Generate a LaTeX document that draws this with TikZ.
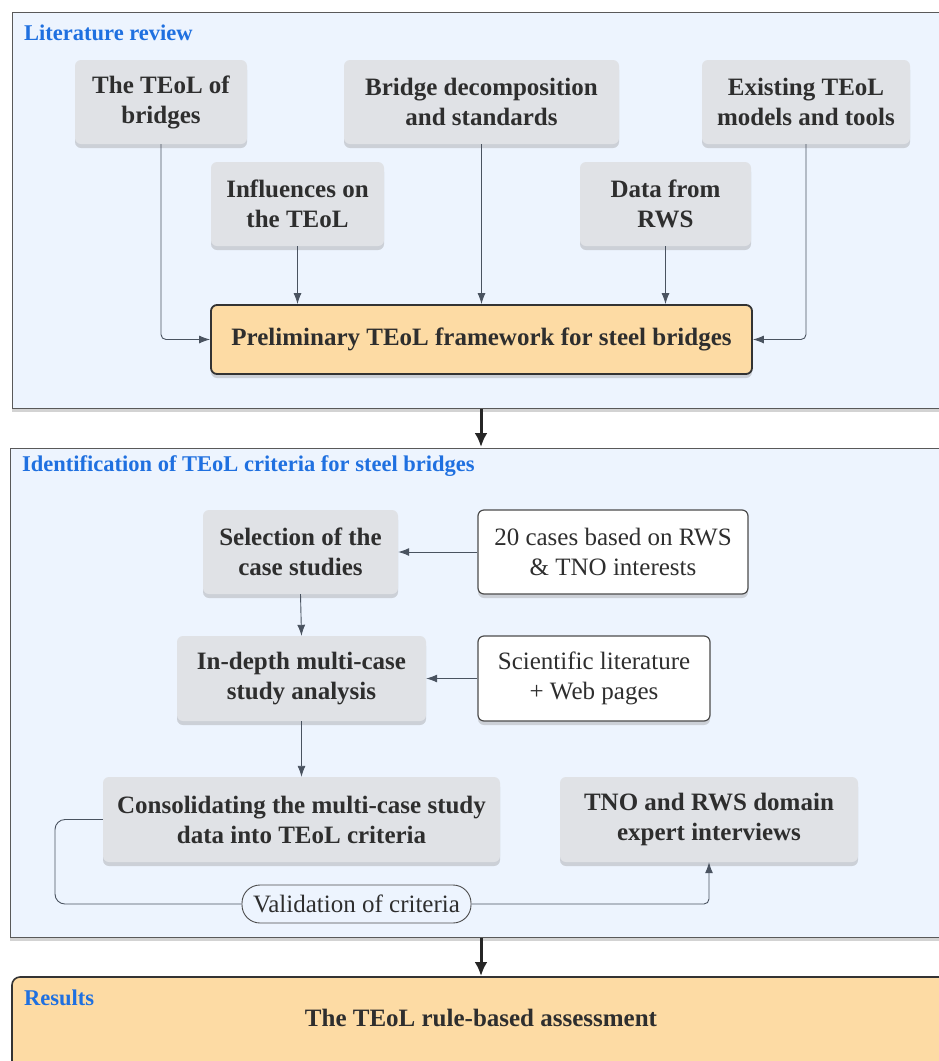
\documentclass[tikz,border=0pt]{standalone}
\usepackage{fontspec}
\setmainfont{Liberation Serif}
\newfontfamily\myserif{Liberation Serif}
\usetikzlibrary{arrows.meta,shadows,positioning}
\definecolor{bgblue}{HTML}{EDF4FE}
\definecolor{boxgray}{HTML}{E0E2E6}
\definecolor{orangefill}{HTML}{FDDBA4}
\definecolor{titleblue}{HTML}{1F70E0}
\definecolor{txt}{HTML}{2E2E2E}
\definecolor{linecol}{HTML}{4A5360}
\tikzset{
  panel/.style={draw=black!65, line width=1pt, fill=bgblue, drop shadow={opacity=0.35, shadow xshift=0pt, shadow yshift=-4pt}},
  graybox/.style={rectangle, rounded corners=6pt, fill=boxgray, text=txt, align=center, inner sep=0pt,
     font=\myserif\fontsize{25}{30}\selectfont\bfseries, drop shadow={opacity=0.3, shadow xshift=0pt, shadow yshift=-4pt}},
  whitebox/.style={rectangle, rounded corners=6pt, fill=white, draw=black!70, line width=1.2pt, text=txt, align=center, inner sep=0pt,
     font=\myserif\fontsize{25}{30}\selectfont, drop shadow={opacity=0.3, shadow xshift=0pt, shadow yshift=-4pt}},
  orangebox/.style={rectangle, rounded corners=6pt, fill=orangefill, draw=black!80, line width=1.8pt, text=txt, align=center, inner sep=0pt,
     font=\myserif\fontsize{25}{30}\selectfont\bfseries, drop shadow={opacity=0.3, shadow xshift=0pt, shadow yshift=-4pt}},
  pill/.style={rectangle, rounded corners=18pt, fill=bgblue, draw=black!70, line width=0.9pt, text=txt, inner sep=0pt,
     font=\myserif\fontsize{25}{28}\selectfont},
  paneltitle/.style={anchor=west, text=titleblue, font=\myserif\fontsize{22.5}{26}\selectfont\bfseries, inner sep=0pt},
  conn/.style={draw=linecol, line width=0.9pt, -{Latex[length=11pt,width=8pt]}, rounded corners=5pt},
  bigarrow/.style={draw=black!85, line width=3pt, -{Latex[length=14pt,width=13pt]}},
}
\begin{document}
\begin{tikzpicture}[x=1pt,y=-1pt]
\useasboundingbox (0,0) rectangle (938,1061);
% panels
\path[panel] (12,12) rectangle (952,408);
\path[panel] (10,448) rectangle (952,937);
\path[panel, fill=orangefill, draw=black!80, line width=1.6pt, rounded corners=8pt] (12,977) rectangle (952,1080);
\node[paneltitle] (t1) at (24,33) {Literature review};
\node[paneltitle] (t2) at (22,466) {Identification of TEoL criteria for steel bridges};
\node[paneltitle] (t3) at (24,998) {Results};
\node[text=txt, font=\myserif\fontsize{25}{28}\selectfont\bfseries] (res) at (481,1018) {The TEoL rule-based assessment};

% top panel
\node[graybox, minimum width=172pt, minimum height=84pt] (teol) at (161,102) {The TEoL of\\bridges};
\node[graybox, minimum width=275pt, minimum height=84pt] (bridge) at (481.5,102) {Bridge decomposition\\and standards};
\node[graybox, minimum width=208pt, minimum height=84pt] (exist) at (806,102) {Existing TEoL\\models and tools};
\node[graybox, minimum width=173pt, minimum height=84pt] (infl) at (297.5,204) {Influences on\\the TEoL};
\node[graybox, minimum width=171pt, minimum height=84pt] (data) at (665.5,204) {Data from\\RWS};
\node[orangebox, minimum width=541pt, minimum height=69pt] (prelim) at (481.5,339.5) {Preliminary TEoL framework for steel bridges};

\draw[conn] (teol.south) |- (prelim.west);
\draw[conn] (infl.south) -- (infl.south |- prelim.north);
\draw[conn] (bridge.south) -- (bridge.south |- prelim.north);
\draw[conn] (data.south) -- (data.south |- prelim.north);
\draw[conn] (exist.south) |- (prelim.east);

% middle panel
\node[graybox, minimum width=195pt, minimum height=84pt] (sel) at (300.5,552) {Selection of the\\case studies};
\node[whitebox, minimum width=270pt, minimum height=84pt] (cases) at (613,552) {20 cases based on RWS\\\& TNO interests};
\node[graybox, minimum width=249pt, minimum height=85pt] (indepth) at (301.5,678.5) {In-depth multi-case\\study analysis};
\node[whitebox, minimum width=232pt, minimum height=85pt] (sci) at (594,678.5) {Scientific literature\\+ Web pages};
\node[graybox, minimum width=397pt, minimum height=85pt] (cons) at (301.5,819.5) {Consolidating the multi-case study\\data into TEoL criteria};
\node[graybox, minimum width=298pt, minimum height=85pt] (tno) at (709,819.5) {TNO and RWS domain\\expert interviews};
\node[pill, minimum width=229pt, minimum height=38pt] (valid) at (356.5,904) {Validation of criteria};
\coordinate (lc) at (55,904);

\draw[conn] (cases.west) -- (sel.east);
\draw[conn] (sci.west) -- (indepth.east);
\draw[conn] (sel.south) -- (indepth.north);
\draw[conn] (indepth.south) -- (cons.north);
\draw[draw=linecol, line width=0.9pt, rounded corners=10pt] (cons.west) -| (lc) -- (valid.west);
\draw[conn] (valid.east) -| (tno.south);

% big arrows
\draw[bigarrow] (481,409) -- (481,447);
\draw[bigarrow] (481,938) -- (481,976);
\end{tikzpicture}
\end{document}
